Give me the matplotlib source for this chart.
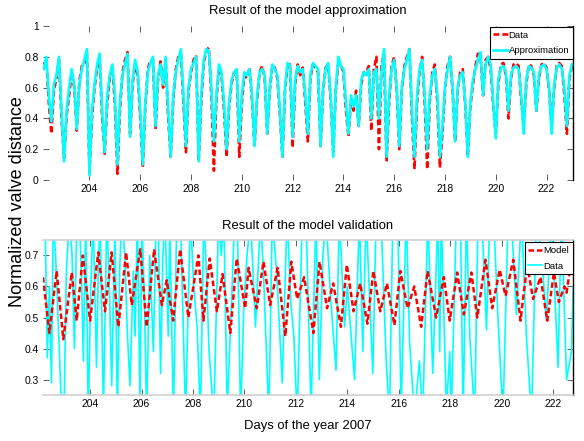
import numpy as np
import matplotlib
matplotlib.use('Agg')
import matplotlib.pyplot as plt

plt.rcParams['font.family'] = ['Liberation Sans', 'DejaVu Sans']

# Upper panel: measured valve distance and model approximation, sampled every 0.1 day
day_start = 202.2
day_step = 0.1
approx_data = [
    0.75, 0.78, 0.50, 0.30, 0.58, 0.66, 0.78, 0.40,
    0.14, 0.42, 0.55, 0.70, 0.60, 0.32, 0.64, 0.74, 0.76, 0.82,
    0.05, 0.40, 0.60, 0.72, 0.80, 0.40, 0.17, 0.50, 0.66, 0.73,
    0.50, 0.04, 0.45, 0.70, 0.78, 0.83, 0.30, 0.62, 0.76, 0.68,
    0.40, 0.08, 0.48, 0.72, 0.78, 0.78, 0.33, 0.65, 0.77, 0.60,
    0.78, 0.40, 0.15, 0.52, 0.72, 0.80, 0.82, 0.50, 0.18, 0.58,
    0.70, 0.78, 0.81, 0.12, 0.50, 0.76, 0.84, 0.86, 0.55, 0.06,
    0.52, 0.73, 0.68, 0.45, 0.15, 0.48, 0.63, 0.70, 0.70, 0.15,
    0.50, 0.68, 0.66, 0.73, 0.52, 0.22, 0.52, 0.70, 0.74, 0.66,
    0.30, 0.58, 0.74, 0.73, 0.66, 0.42, 0.15, 0.58, 0.74, 0.75,
    0.21, 0.62, 0.75, 0.68, 0.73, 0.50, 0.25, 0.66, 0.75, 0.73,
    0.70, 0.22, 0.58, 0.73, 0.75, 0.52, 0.18, 0.58, 0.76, 0.75,
    0.70, 0.45, 0.28, 0.52, 0.45, 0.58, 0.35, 0.62, 0.70, 0.70,
    0.74, 0.32, 0.72, 0.80, 0.20, 0.75, 0.82, 0.12, 0.50, 0.74,
    0.80, 0.58, 0.20, 0.58, 0.74, 0.80, 0.85, 0.40, 0.07, 0.50,
    0.70, 0.80, 0.50, 0.07, 0.50, 0.70, 0.75, 0.50, 0.08, 0.30,
    0.58, 0.74, 0.80, 0.58, 0.25, 0.58, 0.70, 0.72, 0.48, 0.15,
    0.48, 0.62, 0.74, 0.82, 0.80, 0.55, 0.78, 0.80, 0.72, 0.48,
    0.30, 0.62, 0.75, 0.76, 0.68, 0.40, 0.66, 0.75, 0.76, 0.74,
    0.52, 0.35, 0.62, 0.75, 0.74, 0.68, 0.45, 0.66, 0.75, 0.76,
    0.73, 0.58, 0.35, 0.60, 0.74, 0.76, 0.74, 0.55, 0.30, 0.66,
    0.74,
]
approx_model = [
    0.72, 0.80, 0.55, 0.38, 0.62, 0.68, 0.80, 0.45,
    0.12, 0.45, 0.60, 0.72, 0.62, 0.33, 0.62, 0.72, 0.78, 0.85,
    0.03, 0.45, 0.62, 0.75, 0.82, 0.45, 0.18, 0.55, 0.68, 0.75,
    0.55, 0.10, 0.50, 0.68, 0.75, 0.82, 0.28, 0.65, 0.78, 0.70,
    0.45, 0.10, 0.50, 0.70, 0.76, 0.80, 0.35, 0.68, 0.75, 0.62,
    0.80, 0.45, 0.15, 0.55, 0.70, 0.78, 0.85, 0.55, 0.22, 0.60,
    0.72, 0.76, 0.80, 0.12, 0.55, 0.78, 0.85, 0.84, 0.60, 0.25,
    0.55, 0.75, 0.70, 0.50, 0.20, 0.50, 0.65, 0.70, 0.72, 0.25,
    0.55, 0.70, 0.68, 0.72, 0.55, 0.22, 0.55, 0.70, 0.72, 0.68,
    0.30, 0.60, 0.75, 0.72, 0.68, 0.45, 0.15, 0.60, 0.76, 0.74,
    0.28, 0.65, 0.74, 0.70, 0.72, 0.55, 0.30, 0.68, 0.76, 0.74,
    0.72, 0.22, 0.60, 0.72, 0.76, 0.55, 0.15, 0.60, 0.80, 0.74,
    0.72, 0.50, 0.30, 0.55, 0.48, 0.55, 0.35, 0.65, 0.70, 0.68,
    0.72, 0.40, 0.70, 0.72, 0.40, 0.70, 0.85, 0.15, 0.55, 0.72,
    0.78, 0.60, 0.22, 0.60, 0.72, 0.78, 0.85, 0.45, 0.15, 0.55,
    0.72, 0.78, 0.55, 0.20, 0.55, 0.68, 0.72, 0.55, 0.15, 0.35,
    0.60, 0.72, 0.80, 0.60, 0.25, 0.60, 0.68, 0.70, 0.50, 0.15,
    0.50, 0.65, 0.72, 0.78, 0.83, 0.55, 0.75, 0.80, 0.75, 0.50,
    0.27, 0.65, 0.73, 0.74, 0.70, 0.45, 0.68, 0.73, 0.74, 0.72,
    0.55, 0.30, 0.65, 0.74, 0.73, 0.70, 0.45, 0.68, 0.74, 0.75,
    0.72, 0.60, 0.30, 0.62, 0.73, 0.75, 0.72, 0.60, 0.35, 0.68,
    0.75,
]
approx_days = day_start + day_step * np.arange(len(approx_data))

valid_model_days = [
    202.17, 202.42, 202.70, 202.96, 203.29, 203.48, 203.72, 204.00, 204.32, 204.58,
    204.84, 205.10, 205.40, 205.62, 205.95, 206.20, 206.49, 206.79, 206.98, 207.23,
    207.50, 207.82, 208.21, 208.41, 208.65, 208.93, 209.15, 209.45, 209.70, 210.03,
    210.16, 210.48, 210.74, 211.00, 211.29, 211.59, 211.82, 212.05, 212.32, 212.68,
    212.92, 213.21, 213.45, 213.75, 213.98, 214.24, 214.50, 214.78, 215.01, 215.28,
    215.54, 215.83, 216.06, 216.34, 216.60, 216.87, 217.12, 217.45, 217.75, 217.98,
    218.27, 218.53, 218.82, 219.05, 219.37, 219.63, 219.92, 220.15, 220.45, 220.73,
    220.99, 221.22, 221.51, 221.77, 222.03, 222.22, 222.44, 222.52, 222.77,
]
valid_model = [
    0.63, 0.45, 0.65, 0.43, 0.645, 0.49, 0.70, 0.49, 0.71, 0.52,
    0.71, 0.47, 0.71, 0.54, 0.72, 0.47, 0.72, 0.54, 0.62, 0.49,
    0.72, 0.50, 0.70, 0.49, 0.69, 0.52, 0.64, 0.45, 0.69, 0.53,
    0.66, 0.53, 0.68, 0.54, 0.66, 0.44, 0.68, 0.56, 0.63, 0.45,
    0.68, 0.53, 0.61, 0.47, 0.67, 0.52, 0.61, 0.48, 0.65, 0.52,
    0.61, 0.475, 0.65, 0.53, 0.60, 0.47, 0.65, 0.50, 0.63, 0.49,
    0.645, 0.51, 0.645, 0.50, 0.686, 0.53, 0.654, 0.57, 0.686, 0.49,
    0.67, 0.56, 0.63, 0.49, 0.645, 0.55, 0.60, 0.58, 0.72,
]
valid_data_days = [
    202.17, 202.25, 202.34, 202.42, 202.50, 202.57, 202.66, 202.78, 202.90, 202.99,
    203.08, 203.20, 203.30, 203.39, 203.48, 203.58, 203.67, 203.74, 203.83, 203.93,
    204.03, 204.12, 204.25, 204.32, 204.39, 204.52, 204.65, 204.75, 204.84, 204.97,
    205.06, 205.15, 205.23, 205.35, 205.45, 205.55, 205.68, 205.75, 205.84, 205.94,
    206.02, 206.10, 206.20, 206.32, 206.46, 206.57, 206.65, 206.74, 206.83, 206.91,
    207.04, 207.10, 207.24, 207.37, 207.51, 207.71, 207.90, 208.03, 208.16, 208.29,
    208.42, 208.52, 208.62, 208.81, 209.00, 209.10, 209.20, 209.33, 209.50, 209.60,
    209.72, 209.85, 209.98, 210.10, 210.24, 210.43, 210.63, 210.76, 210.95, 211.08,
    211.25, 211.47, 211.66, 211.80, 211.92, 212.05, 212.25, 212.40, 212.59, 212.78,
    212.91, 213.05, 213.17, 213.37, 213.56, 213.69, 213.89, 214.00, 214.15, 214.28,
    214.47, 214.60, 214.73, 214.99, 215.12, 215.31, 215.51, 215.64, 215.77, 215.96,
    216.09, 216.29, 216.42, 216.61, 216.80, 216.93, 217.13, 217.32, 217.52, 217.59,
    217.65, 217.85, 217.98, 218.04, 218.24, 218.40, 218.50, 218.63, 218.76, 218.95,
    219.08, 219.25, 219.41, 219.54, 219.70, 219.86, 220.05, 220.25, 220.40, 220.57,
    220.77, 220.96, 221.16, 221.35, 221.55, 221.74, 221.93, 222.19, 222.32, 222.52,
    222.71, 222.78,
]
valid_data = [
    0.80, 0.82, 0.37, 0.60, 0.29, 0.82, 0.70, 0.45, 0.18, 0.20,
    0.65, 0.83, 0.70, 0.40, 0.80, 0.83, 0.62, 0.36, 0.82, 0.18,
    0.60, 0.83, 0.34, 0.65, 0.82, 0.20, 0.83, 0.60, 0.28, 0.80,
    0.18, 0.65, 0.83, 0.70, 0.45, 0.28, 0.65, 0.44, 0.83, 0.22,
    0.80, 0.60, 0.18, 0.70, 0.39, 0.83, 0.82, 0.32, 0.70, 0.83,
    0.44, 0.80, 0.18, 0.82, 0.84, 0.18, 0.83, 0.60, 0.47, 0.18,
    0.83, 0.65, 0.40, 0.18, 0.84, 0.70, 0.83, 0.20, 0.55, 0.78,
    0.83, 0.18, 0.54, 0.70, 0.82, 0.47, 0.83, 0.60, 0.18, 0.82,
    0.65, 0.29, 0.84, 0.55, 0.44, 0.18, 0.83, 0.80, 0.20, 0.83,
    0.30, 0.70, 0.82, 0.54, 0.33, 0.83, 0.47, 0.60, 0.44, 0.30,
    0.83, 0.39, 0.83, 0.32, 0.83, 0.82, 0.36, 0.18, 0.83, 0.82,
    0.20, 0.84, 0.42, 0.18, 0.36, 0.18, 0.83, 0.32, 0.83, 0.39,
    0.83, 0.20, 0.39, 0.18, 0.83, 0.80, 0.18, 0.83, 0.44, 0.18,
    0.83, 0.78, 0.46, 0.83, 0.80, 0.49, 0.18, 0.83, 0.78, 0.51,
    0.83, 0.44, 0.18, 0.83, 0.70, 0.49, 0.83, 0.34, 0.83, 0.30,
    0.39, 0.60,
]

x_ticks = np.arange(204, 223, 2)
top_yticks = [0, 0.2, 0.4, 0.6, 0.8, 1]
top_ylabels = ['0', '0.2', '0.4', '0.6', '0.8', '1']
bottom_yticks = [0.3, 0.4, 0.5, 0.6, 0.7]

fig = plt.figure(figsize=(5.84, 4.41), dpi=100)
ax1 = fig.add_axes([0.0736, 0.592, 0.9075, 0.349])
ax2 = fig.add_axes([0.0736, 0.104, 0.9075, 0.352])

ax1.plot(approx_days, approx_data, color='red', ls='--', dashes=(2.2, 1.2), lw=1.9, label='Data')
ax1.plot(approx_days, approx_model, color='cyan', lw=1.9, label='Approximation')
ax1.set_xlim(202.17, 223.04)
ax1.set_ylim(0, 1)
ax1.set_yticks(top_yticks)
ax1.set_yticklabels(top_ylabels)
ax1.set_title('Result of the model approximation', fontsize=9.4, pad=8.5)

ax2.plot(valid_data_days, valid_data, color='cyan', lw=1.2, label='Data', zorder=2)
ax2.plot(valid_model_days, valid_model, color='red', ls='--', dashes=(2.2, 1.2), lw=1.8, label='Model', zorder=3)
ax2.set_xlim(202.17, 222.77)
ax2.set_ylim(0.25, 0.75)
ax2.set_yticks(bottom_yticks)
ax2.set_title('Result of the model validation', fontsize=9.4, pad=8)
ax2.set_xlabel('Days of the year 2007', fontsize=9.4, labelpad=8)

# Legend order as in the original: Model first, then Data
h, l = ax2.get_legend_handles_labels()
for ax, handles, labels, anchor in ((ax1, None, None, (1.0, 0.995)),
                                    (ax2, h[::-1], l[::-1], (1.0, 0.985))):
    if handles is None:
        handles, labels = ax.get_legend_handles_labels()
    leg = ax.legend(handles, labels, loc='upper right', bbox_to_anchor=anchor,
                    borderaxespad=0, fontsize=6.8, handlelength=1.5, handletextpad=0.1,
                    borderpad=0.4, labelspacing=0.7, fancybox=False, framealpha=1)
    leg.get_frame().set_edgecolor('black')
    leg.get_frame().set_linewidth(0.8)

for ax in (ax1, ax2):
    ax.set_xticks(x_ticks)
    ax.tick_params(direction='in', length=4, width=0.6, color='#444444',
                   top=True, right=True, labelsize=7.4, pad=3)
    ax.spines['left'].set_visible(False)
    ax.spines['right'].set_color('black')
    ax.spines['right'].set_linewidth(1.0)

for side in ('top', 'bottom'):
    ax1.spines[side].set_visible(False)
    ax2.spines[side].set_color('#d0d0d0')
    ax2.spines[side].set_linewidth(1.2)

fig.text(0.03, 0.544, 'Normalized valve distance', rotation=90, fontsize=13,
         ha='center', va='center')

fig.savefig('out.png', dpi=100)
